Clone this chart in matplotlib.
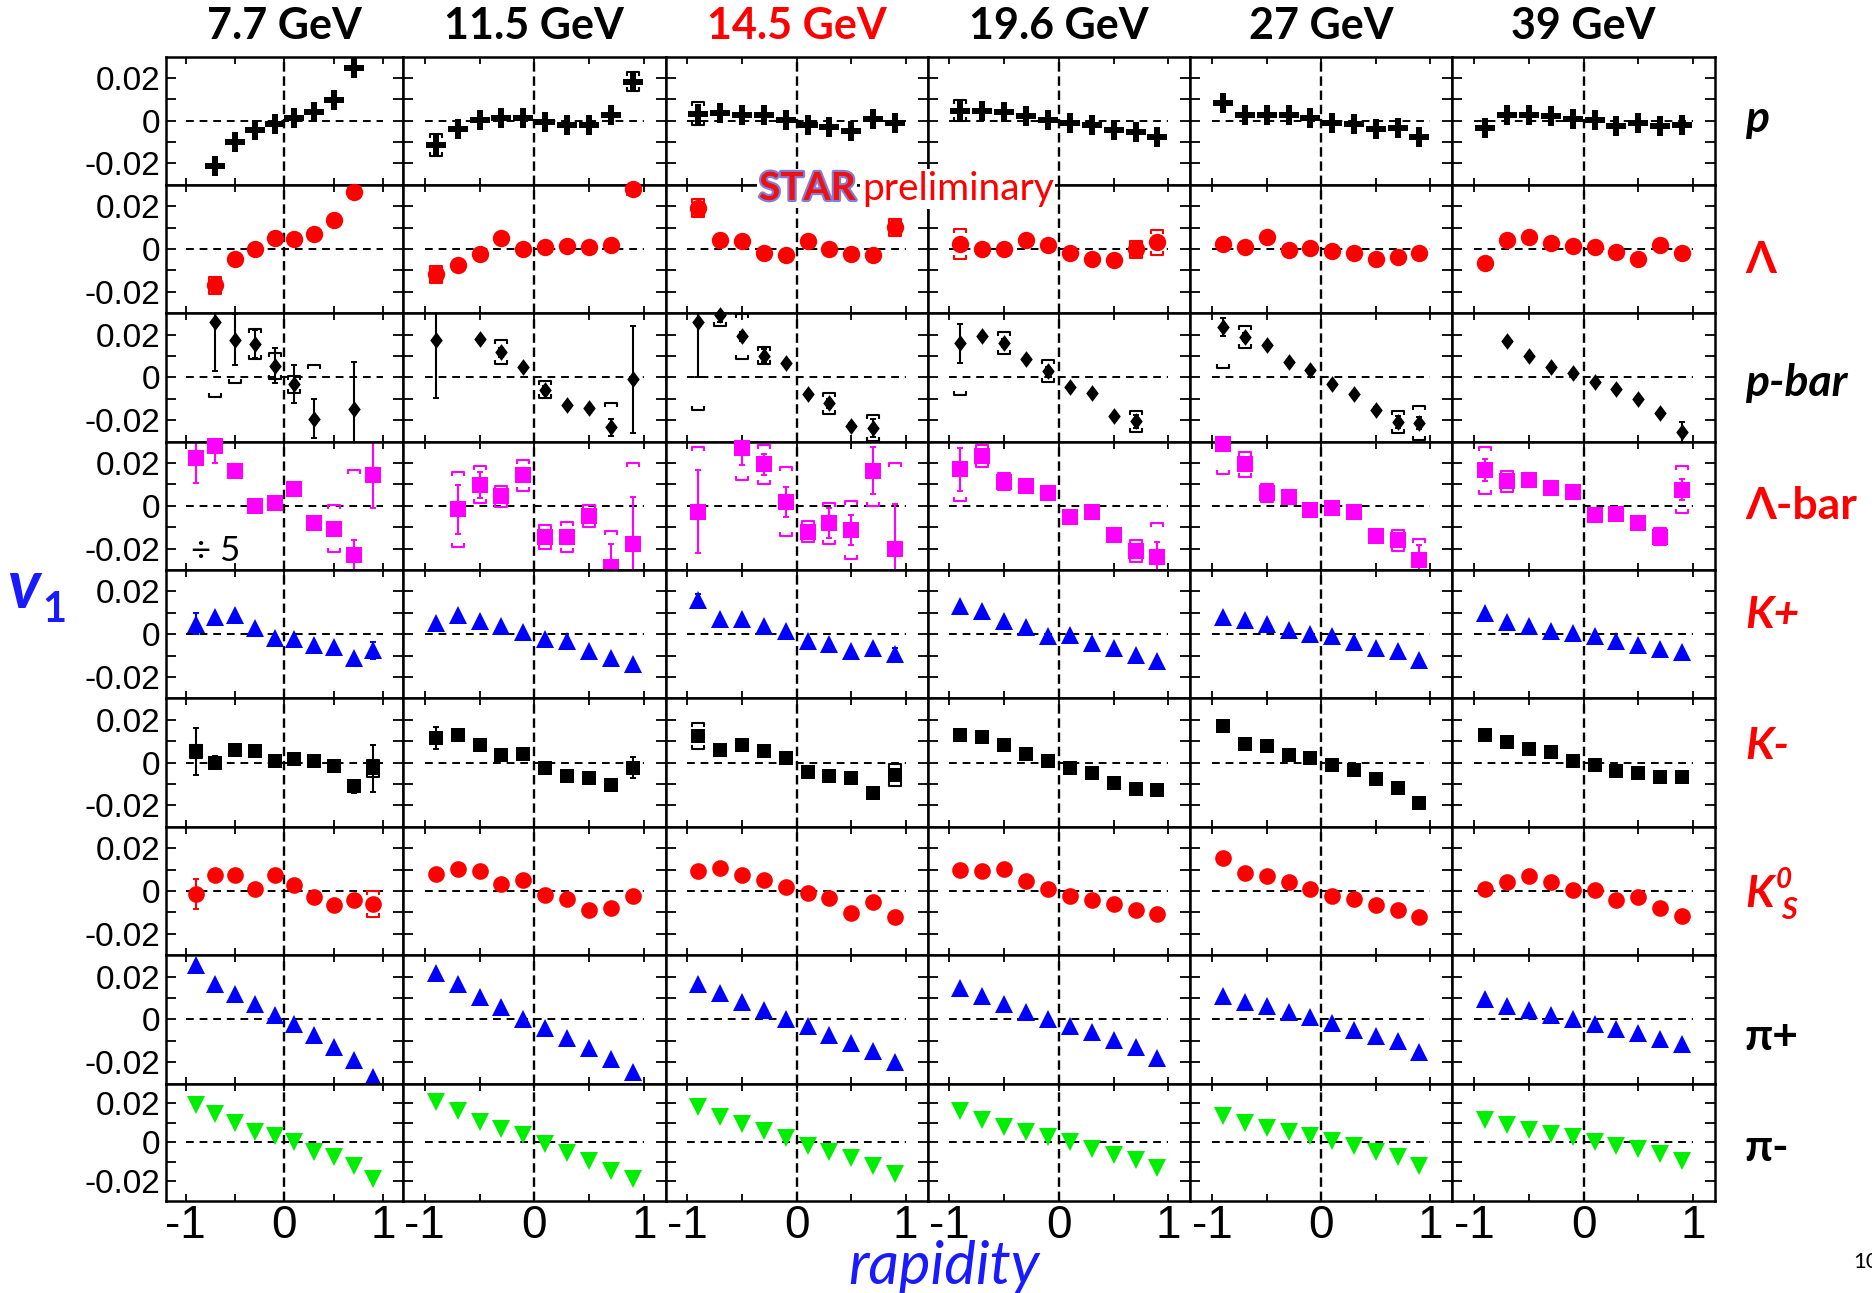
import numpy as np
import matplotlib
matplotlib.use('Agg')
import matplotlib.pyplot as plt
import matplotlib.patheffects as pe

plt.rcParams['axes.unicode_minus'] = False

energies = ['7.7 GeV', '11.5 GeV', '14.5 GeV', '19.6 GeV', '27 GeV', '39 GeV']
energy_colors = ['black', 'black', 'red', 'black', 'black', 'black']
rapidity = [-0.9, -0.7, -0.5, -0.3, -0.1, 0.1, 0.3, 0.5, 0.7, 0.9]
nan = np.nan

# v1 values, one list per energy
v1_p = [[nan, -0.0213, -0.010, -0.0043, -0.0014, 0.0013, 0.0041, 0.0099, 0.0244, nan],
        [-0.0113, -0.0038, 0.0005, 0.0013, 0.0013, -0.0008, -0.0019, -0.0019, 0.0028, 0.0183],
        [0.0033, 0.0036, 0.0028, 0.0028, 0.0005, -0.0019, -0.003, -0.005, 0.0008, -0.0011],
        [0.0047, 0.0047, 0.0041, 0.0024, 0.0005, -0.0011, -0.0019, -0.0043, -0.0055, -0.0077],
        [0.0083, 0.0025, 0.0025, 0.0025, 0.0013, -0.0011, -0.0016, -0.0039, -0.0035, -0.0077],
        [-0.0035, 0.0025, 0.0025, 0.0024, 0.0008, 0.0005, -0.0024, -0.0011, -0.0024, -0.0019]]

v1_lam = [[nan, -0.017, -0.0047, 0.0, 0.005, 0.0046, 0.0071, 0.0134, 0.0267, nan],
          [-0.0118, -0.0076, -0.0024, 0.0054, 0.0, 0.0011, 0.0016, 0.0008, 0.0019, 0.0282],
          [0.0192, 0.0043, 0.0039, -0.0017, -0.0028, 0.0039, 0.0, -0.0025, -0.0028, 0.0102],
          [0.0024, 0.0, 0.0, 0.0043, 0.0019, -0.0016, -0.0044, -0.0049, 0.0, 0.0031],
          [0.0024, 0.0008, 0.0055, -0.0005, 0.0006, -0.0008, -0.0016, -0.0044, -0.0039, -0.0016],
          [-0.0065, 0.0043, 0.0058, 0.0027, 0.0014, 0.0011, -0.0013, -0.0044, 0.0019, -0.002]]

v1_pbar = [[nan, 0.026, 0.0176, 0.0157, 0.0055, -0.0031, -0.0192, nan, -0.0146, nan],
           [0.0176, nan, 0.018, 0.0118, 0.005, -0.0058, -0.013, -0.0142, -0.0233, -0.0008],
           [0.026, 0.029, 0.0192, 0.0102, 0.0068, -0.0076, -0.0121, -0.0225, -0.0236, nan],
           [0.016, 0.0194, 0.0162, 0.0087, 0.0031, -0.0044, -0.0071, -0.0181, -0.0205, nan],
           [0.0236, 0.0189, 0.015, 0.0074, 0.0036, -0.0031, -0.0079, -0.015, -0.0208, -0.0213],
           [nan, 0.017, 0.0102, 0.005, 0.002, -0.002, -0.0055, -0.01, -0.0165, -0.0257]]
pbar_stat = [[0, 0.023, 0.012, 0.0067, 0.0083, 0.0087, 0.009, 0, 0.022, 0],
             [0.027, 0, 0.001, 0.002, 0.001, 0.002, 0.001, 0.001, 0.004, 0.025],
             [0.026, 0.003, 0.002, 0.003, 0.001, 0.001, 0.002, 0.001, 0.004, 0],
             [0.009, 0.001, 0.002, 0.001, 0.002, 0.001, 0.001, 0.001, 0.003, 0],
             [0.004, 0.002, 0.001, 0.001, 0.001, 0.001, 0.001, 0.001, 0.003, 0.003],
             [0, 0.001, 0.001, 0.001, 0.001, 0.001, 0.001, 0.001, 0.001, 0.005]]
pbar_sys = [[0, 0.035, 0.020, 0.007, 0.006, 0.004, 0.025, 0, 0, 0],
            [0, 0, 0, 0.0055, 0, 0.004, 0, 0, 0.0115, 0],
            [0.041, 0.005, 0.0105, 0.004, 0, 0, 0.005, 0, 0.006, 0],
            [0.024, 0, 0.005, 0, 0.005, 0, 0, 0, 0.005, 0],
            [0.019, 0.005, 0, 0, 0, 0, 0, 0, 0.005, 0.008],
            [0, 0, 0, 0, 0, 0, 0, 0, 0, 0]]

v1_lbar = [[0.0225, 0.028, 0.0165, 0.0, 0.0013, 0.0079, -0.0082, -0.0106, -0.0231, 0.0143],
           [nan, -0.0016, 0.0099, 0.0044, 0.0142, -0.0145, -0.0145, -0.0047, -0.0287, -0.018],
           [-0.0027, nan, 0.0272, 0.0194, 0.002, -0.0121, -0.0082, -0.0113, 0.0165, -0.02],
           [0.017, 0.0233, 0.0112, 0.0094, 0.006, -0.005, -0.003, -0.0137, -0.021, -0.024],
           [0.029, 0.0194, 0.006, 0.0041, -0.0019, -0.0011, -0.0027, -0.0142, -0.0161, -0.0255],
           [0.0167, 0.0115, 0.0123, 0.0083, 0.0065, -0.0043, -0.0039, -0.0082, -0.0145, 0.0076]]
lbar_stat = [[0.012, 0.008, 0.002, 0.002, 0.002, 0.002, 0.002, 0.003, 0.007, 0.0155],
             [0, 0.0115, 0.006, 0.003, 0.003, 0.002, 0.003, 0.003, 0.011, 0.022],
             [0.0195, 0, 0.008, 0.005, 0.007, 0.003, 0.007, 0.007, 0.011, 0.021],
             [0.010, 0.002, 0.002, 0.001, 0.001, 0.001, 0.001, 0.002, 0.003, 0.007],
             [0.002, 0.002, 0.001, 0.001, 0.001, 0.001, 0.002, 0.002, 0.002, 0.007],
             [0.005, 0.002, 0.001, 0.001, 0.001, 0.001, 0.001, 0.001, 0.002, 0.005]]
lbar_sys = [[0, 0, 0.003, 0.002, 0.002, 0.002, 0.002, 0.011, 0.040, 0],
            [0, 0.0175, 0.0087, 0.005, 0.0074, 0.0055, 0.007, 0.005, 0.017, 0.038],
            [0.03, 0, 0.015, 0.009, 0.016, 0.005, 0.0095, 0.0137, 0.0165, 0.04],
            [0.0145, 0.005, 0.004, 0, 0, 0, 0, 0, 0.005, 0.016],
            [0.014, 0.006, 0.004, 0, 0, 0, 0, 0, 0.005, 0.01],
            [0.011, 0.005, 0, 0, 0, 0, 0, 0, 0.004, 0.011]]

v1_kp = [[0.005, 0.0083, 0.0088, 0.003, -0.0017, -0.0023, -0.005, -0.006, -0.011, -0.0075],
         [0.0054, 0.0088, 0.006, 0.004, 0.0012, -0.0021, -0.0033, -0.0079, -0.011, -0.0138],
         [0.016, 0.0073, 0.0073, 0.004, 0.0015, -0.0033, -0.0046, -0.008, -0.0065, -0.0094],
         [0.013, 0.0108, 0.006, 0.0035, -0.0008, -0.0002, -0.004, -0.0065, -0.0098, -0.0123],
         [0.0079, 0.0065, 0.005, 0.0021, 0.0002, -0.0008, -0.0037, -0.0065, -0.0079, -0.0119],
         [0.0098, 0.0056, 0.0037, 0.0017, 0.0006, -0.0008, -0.0033, -0.0052, -0.0069, -0.0085]]

v1_km = [[0.0054, 0.0, 0.006, 0.0054, 0.001, 0.0015, 0.001, -0.0017, -0.011, -0.0027],
         [0.0115, 0.013, 0.0083, 0.0038, 0.004, -0.0023, -0.0062, -0.0071, -0.0104, -0.0023],
         [0.0125, 0.006, 0.0083, 0.0054, 0.0021, -0.0042, -0.0062, -0.0071, -0.0144, -0.0058],
         [0.013, 0.0121, 0.0083, 0.004, 0.001, -0.0027, -0.0046, -0.0094, -0.0125, -0.0129],
         [0.0169, 0.0088, 0.0077, 0.0038, 0.0021, -0.0013, -0.0033, -0.0077, -0.0119, -0.0187],
         [0.0127, 0.0096, 0.0063, 0.005, 0.001, -0.0013, -0.0037, -0.0048, -0.0067, -0.0065]]

v1_k0s = [[-0.0013, 0.0075, 0.0075, 0.0008, 0.0075, 0.0027, -0.003, -0.0065, -0.004, -0.006],
          [0.0079, 0.0102, 0.0096, 0.0031, 0.005, -0.0017, -0.0037, -0.0088, -0.0079, -0.0023],
          [0.0094, 0.0108, 0.0073, 0.005, 0.0017, -0.0008, -0.0033, -0.0104, -0.005, -0.0123],
          [0.0098, 0.0092, 0.0102, 0.0046, 0.0008, -0.0021, -0.0042, -0.0062, -0.0088, -0.0106],
          [0.0156, 0.0083, 0.0069, 0.0044, 0.0008, -0.0023, -0.0037, -0.0065, -0.0088, -0.0119],
          [0.0008, 0.0044, 0.0069, 0.004, 0.0006, 0.0006, -0.0042, -0.0027, -0.0081, -0.0117]]

v1_pip = [[0.0254, 0.0167, 0.012, 0.0071, 0.0023, -0.0021, -0.0073, -0.013, -0.0188, -0.027],
          [0.0219, 0.0167, 0.0104, 0.0058, 0.0004, -0.004, -0.0086, -0.0134, -0.0184, -0.0246],
          [0.0167, 0.0123, 0.0081, 0.0042, 0.0004, -0.0029, -0.0073, -0.0108, -0.0146, -0.0198],
          [0.0148, 0.011, 0.0071, 0.0033, 0.0002, -0.0029, -0.006, -0.0096, -0.0131, -0.0179],
          [0.011, 0.0081, 0.0062, 0.0037, 0.0013, -0.0015, -0.005, -0.0079, -0.0102, -0.015],
          [0.0094, 0.0062, 0.0042, 0.0023, 0.0004, -0.0021, -0.0044, -0.0063, -0.0092, -0.0117]]

v1_pim = [[0.019, 0.0147, 0.0099, 0.0053, 0.0032, 0.0, -0.0048, -0.0074, -0.012, -0.0185],
          [0.0204, 0.0162, 0.0105, 0.0067, 0.0038, -0.001, -0.0057, -0.0095, -0.0147, -0.0185],
          [0.0183, 0.013, 0.0095, 0.0057, 0.0021, -0.0021, -0.0048, -0.008, -0.012, -0.0164],
          [0.0162, 0.0112, 0.0078, 0.0053, 0.0027, 0.0, -0.0032, -0.0063, -0.0088, -0.0133],
          [0.0137, 0.0099, 0.0074, 0.0053, 0.0032, 0.0006, -0.0021, -0.0048, -0.0074, -0.012],
          [0.0116, 0.0088, 0.0063, 0.0042, 0.0025, 0.0, -0.0017, -0.0032, -0.0059, -0.0095]]

# a few visible error bars on the other species: (species, energy, point, stat, sys)
extra_errors = [('p', 1, 0, 0, 0.005), ('p', 1, 9, 0, 0.0045), ('p', 2, 0, 0, 0.0055),
                ('p', 2, 9, 0.003, 0), ('p', 3, 0, 0, 0.005),
                ('lam', 0, 1, 0.002, 0.004), ('lam', 0, 8, 0, 0.002), ('lam', 1, 0, 0, 0.004),
                ('lam', 1, 9, 0, 0.003), ('lam', 2, 0, 0, 0.004), ('lam', 2, 9, 0, 0.004),
                ('lam', 3, 0, 0, 0.007), ('lam', 3, 8, 0, 0.004), ('lam', 3, 9, 0, 0.006),
                ('kp', 0, 0, 0.005, 0), ('kp', 0, 9, 0.004, 0), ('kp', 2, 0, 0.003, 0),
                ('kp', 2, 9, 0.003, 0),
                ('km', 0, 0, 0.011, 0.003), ('km', 0, 1, 0.003, 0), ('km', 0, 8, 0.003, 0),
                ('km', 0, 9, 0.011, 0.004), ('km', 1, 0, 0.005, 0), ('km', 1, 9, 0.005, 0),
                ('km', 2, 0, 0, 0.006), ('km', 2, 9, 0, 0.005),
                ('k0s', 0, 0, 0.007, 0), ('k0s', 0, 1, 0.003, 0), ('k0s', 0, 9, 0, 0.006),
                ('k0s', 2, 9, 0.003, 0)]

thin_diamond = [(0, 1), (0.75, 0), (0, -1), (-0.75, 0), (0, 1)]
bracket_top = [(-1, -0.7), (-1, 0), (1, 0), (1, -0.7)]
bracket_bot = [(-1, 0.7), (-1, 0), (1, 0), (1, 0.7)]

species = [
    dict(key='p', vals=v1_p, marker='P', color='black', ms=14),
    dict(key='lam', vals=v1_lam, marker='o', color='red', ms=12.5),
    dict(key='pbar', vals=v1_pbar, marker=thin_diamond, color='black', ms=12,
         stat=pbar_stat, sys=pbar_sys),
    dict(key='lbar', vals=v1_lbar, marker='s', color='#ff00ff', ms=11,
         stat=lbar_stat, sys=lbar_sys),
    dict(key='kp', vals=v1_kp, marker='^', color='#0000ff', ms=13.5),
    dict(key='km', vals=v1_km, marker='s', color='black', ms=10.5),
    dict(key='k0s', vals=v1_k0s, marker='o', color='red', ms=12),
    dict(key='pip', vals=v1_pip, marker='^', color='#0000ff', ms=13.5),
    dict(key='pim', vals=v1_pim, marker='v', color='#00ee00', ms=13.5),
]

fig = plt.figure(figsize=(18.72, 12.93), dpi=100)
gs = fig.add_gridspec(9, 6, left=166 / 1872, right=1715 / 1872,
                      top=1 - 56.5 / 1293, bottom=1 - 1201 / 1293,
                      width_ratios=[237, 263, 262, 263, 262, 263],
                      height_ratios=[128] * 8 + [117], wspace=0, hspace=0)

tick_font = 'Liberation Sans'
text_font = ['Lato', 'DejaVu Sans']

row_centers = []
for i, sp in enumerate(species):
    for j in range(6):
        ax = fig.add_subplot(gs[i, j])
        ax.set_xlim(-1.2, 1.2)
        ax.set_ylim(-0.03, 0.03)
        ax.axvline(0, color='black', lw=1.7, ls=(0, (4, 2)), zorder=1)
        ax.hlines(0, -1, 1, colors='black', lw=1.4, linestyles=(0, (4, 3)), zorder=1)

        x = np.array(rapidity)
        y = np.array(sp['vals'][j], dtype=float)
        stat = np.array(sp['stat'][j], dtype=float) if 'stat' in sp else np.zeros(10)
        sys_ = np.array(sp['sys'][j], dtype=float) if 'sys' in sp else np.zeros(10)
        for (k, e, n, s1, s2) in extra_errors:
            if k == sp['key'] and e == j:
                stat[n] = s1
                sys_[n] = s2

        ms = sys_ > 0
        if ms.any():
            ax.plot(x[ms], y[ms] + sys_[ms], ls='none', marker=bracket_top, ms=8,
                    mfc='none', mec=sp['color'], mew=1.5, zorder=2)
            ax.plot(x[ms], y[ms] - sys_[ms], ls='none', marker=bracket_bot, ms=8,
                    mfc='none', mec=sp['color'], mew=1.5, zorder=2)
        mst = stat > 0
        if mst.any():
            ax.errorbar(x[mst], y[mst], yerr=stat[mst], fmt='none',
                        ecolor=sp['color'], elinewidth=1.5, capsize=2, capthick=1.4, zorder=2)
        ax.plot(x, y, ls='none', marker=sp['marker'], color=sp['color'],
                markersize=sp['ms'], markeredgewidth=0, zorder=3, clip_on=False)

        ax.set_xticks([-1, 0, 1])
        ax.set_xticks([-0.5, 0.5], minor=True)
        ax.set_yticks([-0.02, 0, 0.02])
        ax.set_yticks([-0.01, 0.01], minor=True)
        ax.tick_params(axis='x', which='both', direction='in', top=True, length=5, width=1.3)
        ax.tick_params(axis='y', which='both', direction='in', right=True, length=7, width=1.3)
        for s in ax.spines.values():
            s.set_linewidth(1.8)
            s.set_zorder(2.5)

        if j == 0:
            ax.set_yticklabels(['-0.02', '0', '0.02'], fontsize=24, family=tick_font)
            ax.tick_params(axis='y', pad=4)
        else:
            ax.set_yticklabels([])
        if i == len(species) - 1:
            ax.set_xticklabels(['-1', '0', '1'], fontsize=33, family=tick_font)
            ax.tick_params(axis='x', pad=2)
        else:
            ax.set_xticklabels([])

        if i == 0:
            pos = ax.get_position()
            fig.text((pos.x0 + pos.x1) / 2, 0.980, energies[j], ha='center', va='center',
                     fontsize=31, fontweight='bold', color=energy_colors[j], family=text_font)
        if i == 3 and j == 0:
            ax.text(-0.95, -0.021, '÷ 5', fontsize=25, va='center', ha='left',
                    family=text_font)
    pos = ax.get_position()
    row_centers.append((pos.y0 + pos.y1) / 2)

# particle labels on the right
lx = 1745 / 1872
labels = [('p', 'black', 'italic', -2), ('Λ', 'red', 'normal', 11),
          ('p-bar', 'black', 'italic', 6), ('Λ-bar', 'red', 'normal', 0),
          ('K+', 'red', 'italic', -19), ('K-', 'red', 'italic', -17),
          ('K', 'red', 'italic', 3), ('π+', 'black', 'normal', 18),
          ('π-', 'black', 'normal', 6)]
label_y = []
for (txt, col, st, dy), yc in zip(labels, row_centers):
    yy = yc - dy / 1293
    label_y.append(yy)
    fig.text(lx, yy, txt, ha='left', va='center', fontsize=32, fontweight='bold',
             style=st, color=col, family=text_font)
fig.text(lx + 0.0165, label_y[6] + 0.011, '0', ha='left', va='center', fontsize=20,
         fontweight='bold', style='italic', color='red', family=text_font)
fig.text(lx + 0.019, label_y[6] - 0.012, 'S', ha='left', va='center', fontsize=22,
         fontweight='bold', style='italic', color='red', family=text_font)

# axis titles
fig.text(0.004, 0.545, 'v', fontsize=48, fontweight='bold', style='italic', color='#1a1aff',
         ha='left', va='center', family=text_font)
fig.text(0.0225, 0.528, '1', fontsize=30, fontweight='bold', color='#1a1aff',
         ha='left', va='center', family=text_font)
fig.text(0.504, 0.020, 'rapidity', fontsize=43, style='italic', color='#1a1aff',
         ha='center', va='center', family=text_font)

# STAR preliminary stamp
fig.text(759 / 1872, 1 - 200 / 1293, 'STAR', fontsize=28, fontweight='bold', color='#ee1111',
         ha='left', va='baseline', family=text_font, zorder=10,
         bbox=dict(facecolor='white', edgecolor='none', pad=1),
         path_effects=[pe.withStroke(linewidth=3, foreground='#8080e0')])
fig.text(862 / 1872, 1 - 200 / 1293, 'preliminary', fontsize=28, color='red',
         ha='left', va='baseline', family=text_font, zorder=10,
         bbox=dict(facecolor='white', edgecolor='none', pad=1))

fig.text(1853 / 1872, 1 - 1262 / 1293, '10', fontsize=16, ha='left', va='center',
         family=text_font)

fig.savefig('out.png', dpi=100)
